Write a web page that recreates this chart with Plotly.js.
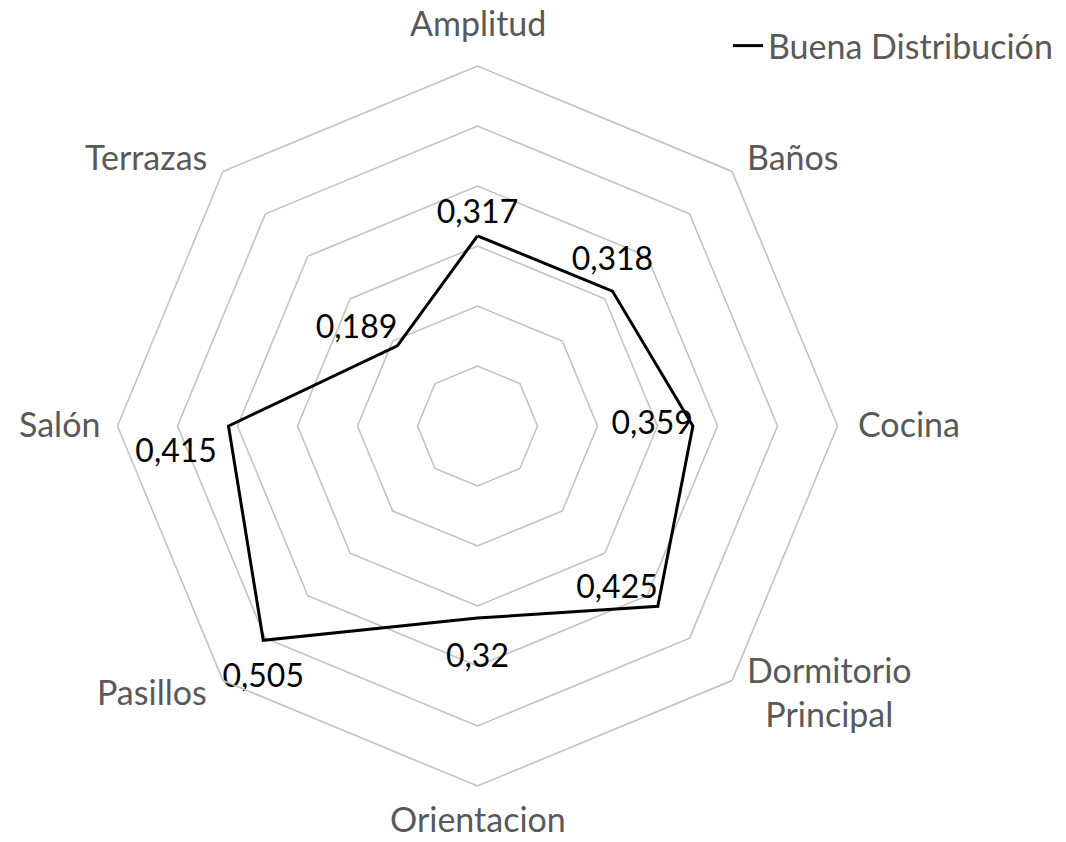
<!DOCTYPE html>
<html>
<head>
<meta charset="utf-8">
<script src="https://cdn.plot.ly/plotly-3.0.1.min.js"></script>
<style>html,body{margin:0;padding:0;background:#fff;}#chart{width:1066px;height:842px;}</style>
</head>
<body>
<div id="chart"></div>
<script>
const categories = ["Amplitud", "Baños", "Cocina", "Dormitorio<br>Principal", "Orientacion", "Pasillos", "Salón", "Terrazas"];
const values = [0.317, 0.318, 0.359, 0.425, 0.32, 0.505, 0.415, 0.189];
const labelText = ["0,317", "0,318", "0,359", "0,425", "0,32", "0,505", "0,415", "0,189"];
const seriesName = "Buena Distribución";
const radialTicks = [0, 0.1, 0.2, 0.3, 0.4, 0.5, 0.6];

// styling only: label placement and invisible marker sizes that push labels away from points
const labelPositions = ["top center", "top center", "middle left", "top left", "bottom center", "bottom center", "bottom left", "top left"];
const labelGap = [6, 19, 0, 0, 38, 35, 17, 0];

const FONT = "Lato, Carlito, Calibri, sans-serif";

const lineTrace = {
  type: "scatterpolar",
  mode: "lines",
  r: values.concat([values[0]]),
  theta: categories.concat([categories[0]]),
  line: {color: "#000000", width: 3},
  name: seriesName,
  showlegend: true,
  hoverinfo: "skip"
};

const labelTrace = {
  type: "scatterpolar",
  mode: "markers+text",
  r: values,
  theta: categories,
  text: labelText,
  textposition: labelPositions,
  textfont: {family: FONT, size: 32, color: "#000000"},
  marker: {size: labelGap, color: "rgba(0,0,0,0)", opacity: 0, line: {width: 0}},
  showlegend: false,
  hoverinfo: "skip",
  cliponaxis: false
};

// polar geometry (pixels) used to place category labels outside the outer ring
const W = 1066, H = 842;
const cx = 477.5, cy = 426, R = 360;
const annotations = categories.map(function (cat, i) {
  const ang = (90 - 45 * i) * Math.PI / 180;
  const c = Math.cos(ang), s = Math.sin(ang);
  const vx = cx + R * c, vy = cy - R * s;
  let x, y, xa, ya = "middle";
  if (Math.abs(c) < 0.01) {
    x = vx; xa = "center";
    if (s > 0) { y = vy - 43; } else { y = H - 1; ya = "bottom"; }
  } else if (Math.abs(s) < 0.01) {
    xa = c > 0 ? "left" : "right";
    x = vx + (c > 0 ? 18 : -16);
    y = vy - 3;
  } else {
    xa = c > 0 ? "left" : "right";
    x = vx + (c > 0 ? 13 : -14);
    y = vy + (s > 0 ? -15 : 11);
  }
  return {
    text: cat, xref: "paper", yref: "paper",
    x: x / W, y: 1 - y / H, xanchor: xa, yanchor: ya,
    showarrow: false, align: "center",
    font: {family: FONT, size: 34, color: "#595959"}
  };
});

const gridColor = "#c0c0c0";
const layout = {
  width: W,
  height: H,
  margin: {l: 0, r: 0, t: 0, b: 0},
  paper_bgcolor: "#ffffff",
  font: {family: FONT, color: "#595959", size: 34},
  showlegend: true,
  legend: {
    x: 1 - 8 / W, xanchor: "right", y: 1 - 17 / H, yanchor: "top",
    font: {family: FONT, size: 34, color: "#595959"},
    bgcolor: "rgba(0,0,0,0)"
  },
  annotations: annotations,
  polar: {
    domain: {x: [(cx - R) / W, (cx + R) / W], y: [1 - (cy + R) / H, 1 - (cy - R) / H]},
    bgcolor: "#ffffff",
    gridshape: "linear",
    radialaxis: {
      range: [radialTicks[0], radialTicks[radialTicks.length - 1]],
      tickvals: radialTicks,
      showticklabels: false,
      ticks: "",
      showline: false,
      showgrid: true,
      gridcolor: gridColor,
      gridwidth: 1.5
    },
    angularaxis: {
      direction: "clockwise",
      rotation: 90,
      showgrid: false,
      showline: true,
      linecolor: gridColor,
      linewidth: 1.5,
      ticks: "",
      showticklabels: false
    }
  }
};

Plotly.newPlot("chart", [lineTrace, labelTrace], layout, {displayModeBar: false, staticPlot: true});
</script>
</body>
</html>
